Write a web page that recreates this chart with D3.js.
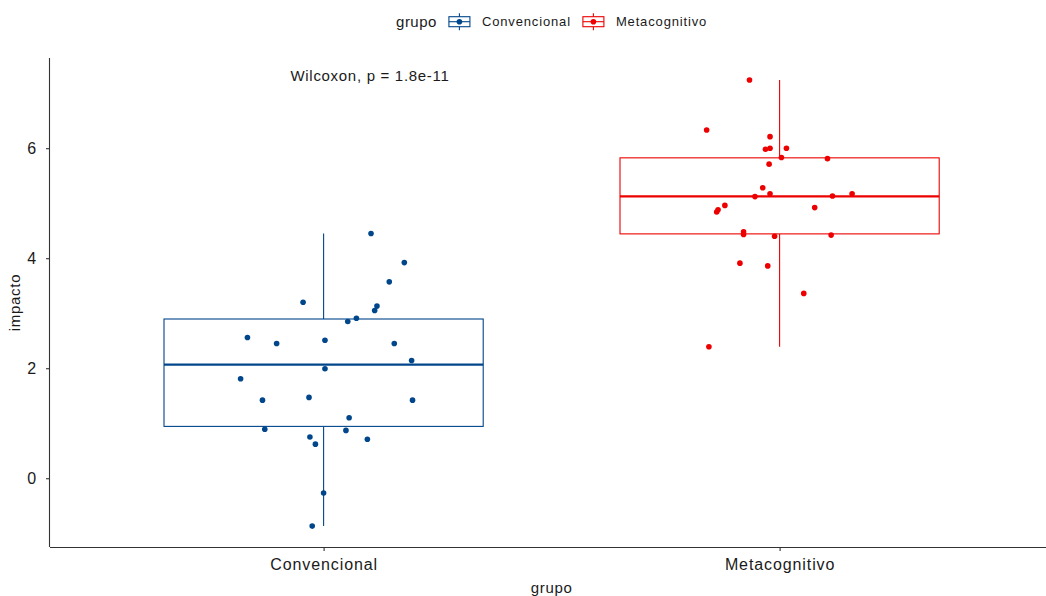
<!DOCTYPE html>
<html>
<head>
<meta charset="utf-8">
<script src="https://cdn.jsdelivr.net/npm/d3@7"></script>
<style>
  body { margin: 0; background: #fff; }
  svg { display: block; }
  text { font-family: "Liberation Sans", Arial, sans-serif; fill: #1a1a1a; }
</style>
</head>
<body>
<svg id="chart" width="1046" height="596"></svg>
<script>
// Groups and palette
const groups = ["Convencional", "Metacognitivo"];
const groupColors = ["#00468B", "#ED0000"];

// Impact scores per group
const convencional = [4.45, 3.92, 3.57, 3.20, 3.13, 3.05, 2.91, 2.85, 2.56, 2.45, 2.51, 2.45, 2.14,
                      1.99, 1.81, 1.42, 1.47, 1.42, 1.10, 0.89, 0.87, 0.75, 0.71, 0.62, -0.27, -0.87];
const metacognitivo = [7.24, 6.33, 6.21, 5.98, 6.00, 6.00, 5.83, 5.81, 5.71, 5.28, 5.17, 5.12, 5.13,
                       5.17, 4.96, 4.88, 4.84, 4.92, 4.48, 4.43, 4.40, 4.42, 3.91, 3.86, 3.36, 2.39];

// Horizontal jitter of each point, in category units
const convencionalJitter = [0.104, 0.177, 0.144, -0.045, 0.117, 0.112, 0.072, 0.053, -0.167, -0.103, 0.003, 0.155, 0.193,
                            0.003, -0.182, -0.134, -0.032, 0.195, 0.056, -0.129, 0.049, -0.030, 0.096, -0.018, 0.000, -0.025];
const metacognitivoJitter = [-0.066, -0.160, -0.021, -0.031, -0.021, 0.015, 0.004, 0.105, -0.023, -0.037, -0.021, -0.054, 0.116,
                             0.159, -0.120, -0.135, -0.138, 0.077, -0.079, -0.079, -0.011, 0.113, -0.087, -0.026, 0.053, -0.155];

const yTicks = [0, 2, 4, 6];
const yDomain = [-1.25, 7.64];
const testLabel = "Wilcoxon, p = 1.8e-11";
const xTitle = "grupo";
const yTitle = "impacto";
const legendTitle = "grupo";

const series = [
  { name: groups[0], values: convencional, jitter: convencionalJitter, color: groupColors[0] },
  { name: groups[1], values: metacognitivo, jitter: metacognitivoJitter, color: groupColors[1] }
];

const svg = d3.select("#chart");
const panel = { left: 50, top: 58, bottom: 547, right: 1053.2 };

const x = d3.scaleLinear().domain([0.4, 2.6]).range([panel.left, panel.right]);
const y = d3.scaleLinear().domain(yDomain).range([panel.bottom, panel.top]);

const boxWidth = 0.7;
const tickFont = "16px";

// Box statistics (Tukey)
function boxStats(vals) {
  const s = vals.slice().sort(d3.ascending);
  const q1 = d3.quantile(s, 0.25), med = d3.quantile(s, 0.5), q3 = d3.quantile(s, 0.75);
  const iqr = q3 - q1;
  const lo = d3.min(s.filter(v => v >= q1 - 1.5 * iqr));
  const hi = d3.max(s.filter(v => v <= q3 + 1.5 * iqr));
  return { q1, med, q3, lo, hi };
}

// Boxes
series.forEach((g, i) => {
  const st = boxStats(g.values);
  const cx = x(i + 1);
  const gg = svg.append("g").attr("stroke", g.color).attr("fill", "none");
  gg.append("line").attr("x1", cx).attr("x2", cx).attr("y1", y(st.q3)).attr("y2", y(st.hi)).attr("stroke-width", 1.1);
  gg.append("line").attr("x1", cx).attr("x2", cx).attr("y1", y(st.q1)).attr("y2", y(st.lo)).attr("stroke-width", 1.1);
  gg.append("rect")
    .attr("x", x(i + 1 - boxWidth / 2)).attr("width", x(i + 1 + boxWidth / 2) - x(i + 1 - boxWidth / 2))
    .attr("y", y(st.q3)).attr("height", y(st.q1) - y(st.q3))
    .attr("stroke-width", 1.1);
  gg.append("line")
    .attr("x1", x(i + 1 - boxWidth / 2)).attr("x2", x(i + 1 + boxWidth / 2))
    .attr("y1", y(st.med)).attr("y2", y(st.med)).attr("stroke-width", 2.2);
});

// Jittered points
series.forEach((g, i) => {
  svg.append("g").selectAll("circle")
    .data(g.values.map((v, k) => ({ v, j: g.jitter[k] })))
    .join("circle")
    .attr("cx", d => x(i + 1 + d.j))
    .attr("cy", d => y(d.v))
    .attr("r", 2.8)
    .attr("fill", g.color);
});

// Axes
const xAxis = svg.append("g")
  .attr("transform", `translate(0,${panel.bottom})`)
  .call(d3.axisBottom(x).tickValues([1, 2]).tickFormat(d => groups[d - 1]).tickSizeOuter(0).tickSize(4).tickPadding(8));
const yAxis = svg.append("g")
  .attr("transform", `translate(${panel.left},0)`)
  .call(d3.axisLeft(y).tickValues(yTicks).tickSizeOuter(0).tickSize(4).tickPadding(9));

[xAxis, yAxis].forEach(a => {
  a.select(".domain").attr("stroke", "#333").attr("stroke-width", 1.1);
  a.selectAll(".tick line").attr("stroke", "#333").attr("stroke-width", 1.1);
  a.selectAll(".tick text").attr("font-size", tickFont).attr("fill", "#333")
    .style("font-family", '"Liberation Sans", Arial, sans-serif').style("letter-spacing", "0.9px");
});
// Domain lines extended to panel bounds
xAxis.select(".domain").attr("d", `M${panel.left},0.5H${panel.right}`);
yAxis.select(".domain").attr("d", `M-0.5,${panel.top}V${panel.bottom}`);

// Axis titles
svg.append("text").attr("x", (panel.left + panel.right) / 2).attr("y", 593)
  .attr("text-anchor", "middle").attr("font-size", "15px").style("letter-spacing", "0.7px").text(xTitle);
svg.append("text").attr("transform", `translate(20,${(panel.top + panel.bottom) / 2}) rotate(-90)`)
  .attr("text-anchor", "middle").attr("font-size", "15px").style("letter-spacing", "0.7px").text(yTitle);

// Test annotation
svg.append("text").attr("x", 370).attr("y", 81).attr("text-anchor", "middle")
  .attr("font-size", "15px").style("letter-spacing", "0.7px").text(testLabel);

// Legend
const legend = svg.append("g");
let lx = 0;
const ly = 21.7;
const lt = legend.append("text").attr("x", lx).attr("y", ly + 5).attr("font-size", "15px")
  .style("letter-spacing", "0.5px").text(legendTitle);
lx += lt.node().getComputedTextLength() + 12;
series.forEach((g, i) => {
  const k = legend.append("g").attr("stroke", g.color).attr("fill", "none");
  const kw = 21;
  k.append("line").attr("x1", lx + kw / 2).attr("x2", lx + kw / 2).attr("y1", ly - 8.5).attr("y2", ly + 8.5).attr("stroke-width", 1.1);
  k.append("rect").attr("x", lx).attr("y", ly - 5).attr("width", kw).attr("height", 10).attr("fill", "#fff").attr("stroke-width", 1.1);
  k.append("line").attr("x1", lx).attr("x2", lx + kw).attr("y1", ly).attr("y2", ly).attr("stroke-width", 1.1);
  k.append("circle").attr("cx", lx + kw / 2).attr("cy", ly).attr("r", 2.8).attr("fill", g.color).attr("stroke", "none");
  lx += kw + 12;
  const t = legend.append("text").attr("x", lx).attr("y", ly + 4.5).attr("font-size", "13px")
    .style("letter-spacing", "0.85px").text(g.name);
  lx += t.node().getComputedTextLength() + 12;
});
const legendW = lx - 12;
legend.attr("transform", `translate(${(panel.left + panel.right) / 2 - legendW / 2},0)`);
</script>
</body>
</html>
